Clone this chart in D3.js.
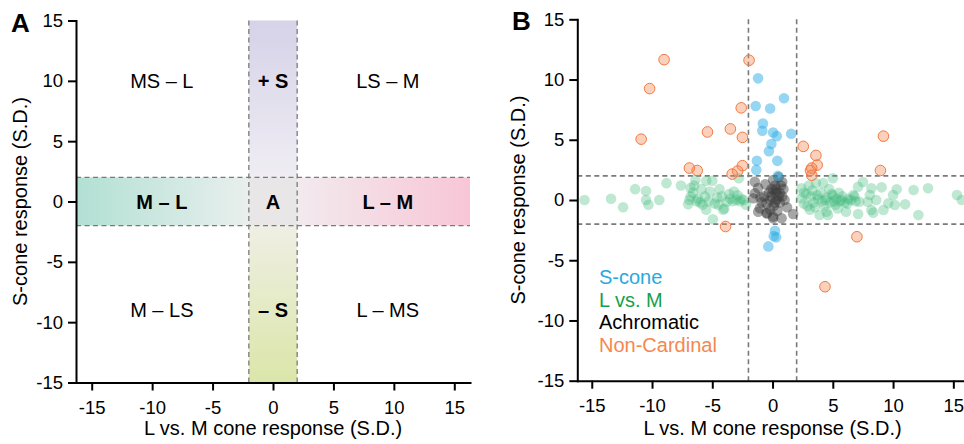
<!DOCTYPE html>
<html>
<head>
<meta charset="utf-8">
<script src="https://cdn.jsdelivr.net/npm/d3@7"></script>
<style>
	body { margin: 0; background: #fff; }
	svg { display: block; font-family: "Liberation Sans", Arial, sans-serif; }
	.axis path, .axis line { stroke: #000; stroke-width: 2; }
	.axis text { font-size: 18.5px; fill: #000; }
	.title { font-size: 20px; fill: #000; }
</style>
</head>
<body>
<svg width="964" height="444"></svg>
<script>
var tickValues = [-15, -10, -5, 0, 5, 10, 15];
var cutoff = 2;

// panel A region labels (text per row, columns at regionX, rows at regionY)
var regionX = [-9.2, 0, 9.5];
var regionY = [10, 0, -9];
var regionText = [
	["MS – L", "+ S", "LS – M"],
	["M – L", "A", "L – M"],
	["M – LS", "– S", "L – MS"]
];

// panel B: [L vs. M, S-cone] per cell
var sCone = [
	[-1.2, 10.1], [-1.4, 7.8], [-0.2, 7.6], [0.95, 8.45], [-0.8, 6.35], [-0.85, 5.75],
	[0.05, 5.6], [0.35, 5.3], [1.55, 5.5], [-0.1, 4.65], [-0.3, 4.05], [-1.3, 3.25],
	[0.4, 3.25], [-1.35, 2.5], [0.45, 2.0], [0.2, -2.55], [0.1, -3.0], [0.3, -3.1], [-0.35, -3.85]
];
var lvsM = [
	[-15.6, 0], [-13.4, 0.1], [-12.4, -0.6], [-11.4, 0.9], [-10.5, 0.75], [-10.5, 0],
	[-10.3, -0.4], [-9.4, 0], [-8.8, 1.4], [-7.6, 1.2], [-6.8, 1.0], [-6.8, 0.3],
	[-7.0, -0.35], [-6.4, 1.65], [-6.6, 0.6], [-6.2, 0.1], [-6.0, -0.2], [-6.9, 0.0],
	[-5.5, 1.6], [-5.0, 1.6], [-5.5, -0.8], [-4.95, -1.6], [-5.2, 0.7], [-5.6, 0.3],
	[-4.4, 0.9], [-4.2, 0.3], [-3.8, -0.15], [-4.0, -0.7], [-4.1, -0.8], [-3.2, 0.7],
	[-3.0, 0], [-2.4, 0], [-2.8, 1.8], [-2.2, -0.4], [-3.5, 0.1], [-3.3, -0.1],
	[-2.7, -0.1], [-2.6, 0.1], [-4.6, 0.2], [-4.8, -0.3], [-5.8, -0.4], [-3.6, 0.5],
	[-2.9, 0.4], [-6.3, -0.1], [-5.3, -0.1], [-4.5, -0.4], [-6.5, 1.2], [-5.9, 0.9],
	[2.4, 0.97], [2.4, 0.14], [2.6, -0.3], [2.8, 0.5], [3.0, 1.2], [3.2, 0.3],
	[3.4, -0.2], [3.3, 0.8], [3.6, 1.4], [3.8, 0.1], [3.9, -1.24], [4.0, 0.6],
	[4.2, 1.4], [4.3, -0.5], [4.5, 0.2], [4.48, -0.97], [4.6, -1.24], [4.7, 0.9],
	[4.8, -0.2], [5.0, 1.8], [5.0, 0.4], [5.2, -0.4], [5.3, 0.1], [5.5, 0.6],
	[5.6, -0.1], [5.8, 0.3], [6.0, -0.2], [6.1, -0.97], [6.3, 0.1], [6.5, 0.0],
	[6.7, 0.41], [6.9, -0.1], [3.1, -0.8], [3.5, -0.6], [4.1, -0.1], [2.9, -0.5],
	[2.6, 0.6], [4.9, 0.5], [5.4, -0.7], [6.8, 0.3], [3.7, 0.4], [4.4, 0.0],
	[5.1, -0.1], [5.7, 0.0], [6.2, -0.3], [7.1, 1.1], [7.5, 1.5], [8.2, 0.97],
	[9.05, 1.05], [8.07, 0.41], [8.6, 0], [7.9, -0.14], [7.2, -0.14], [7.1, -1.16],
	[8.2, -0.83], [8.35, -1.05], [9.2, -0.83], [9.6, -0.28], [10.0, 0.41], [10.3, 0.89],
	[10.15, -0.41], [11.0, -0.36], [11.7, 0.83], [12.1, -1.24], [12.9, 0.97], [15.3, 0.41],
	[15.7, 0]
];
var achromatic = [
	[-1.6, 0.14], [-1.47, 1.52], [-1.47, 0.55], [-1.05, -0.69], [-1.19, -0.97], [-0.5, -1.1],
	[-0.45, -1.1], [0.05, -1.38], [0.05, -1.52], [0.75, -1.52], [1.71, -1.16], [0.05, 1.66],
	[0.05, 0.83], [-0.3, 0.6], [0.3, 0.6], [-0.2, 0.0], [0.3, 0.0], [-0.5, -0.3],
	[0.1, -0.5], [-0.7, 0.3], [0.7, 1.2], [0.8, 1.5], [0.9, 0.9], [0.8, 0.3],
	[0.4, -0.9], [-0.2, -0.8], [-1.0, 0.2], [-1.2, 1.0], [0.5, 1.9], [-0.6, 1.3],
	[0.2, 1.2], [0.6, -0.2], [-0.9, -0.2], [1.0, 0.0], [1.2, -0.6], [-0.1, 0.3], [0.5, 0.3],
	[0.3, 0.9], [-0.1, 0.9], [0.6, 0.6], [0.2, -0.2]
];
var nonCardinal = [
	[-9.0, 11.65], [-1.95, 11.6], [-10.2, 9.25], [-10.9, 5.05], [-2.6, 7.65], [-5.4, 5.65],
	[-3.5, 5.9], [-2.5, 5.2], [-6.9, 2.65], [-6.25, 2.45], [-2.5, 2.85], [-2.9, 2.4],
	[-3.35, 2.15], [2.55, 4.45], [3.6, 3.7], [3.7, 2.9], [3.25, 2.65], [3.15, 2.45],
	[3.25, 2.05], [9.2, 5.3], [8.95, 2.45], [-3.9, -2.2], [7.0, -3.05], [4.35, -7.2]
];
var legendNames = ["S-cone", "L vs. M", "Achromatic", "Non-Cardinal"];
var legendColors = ["#29a9e0", "#16a04c", "#000000", "#f5874f"];

var svg = d3.select("svg");

function drawAxes(g, x, y, yTitleX) {
	g.append("g").attr("class", "axis")
		.attr("transform", "translate(0," + y.range()[0] + ")")
		.call(d3.axisBottom(x).tickValues(tickValues).tickFormat(String)
			.tickSize(8).tickSizeOuter(0).tickPadding(10));
	g.append("g").attr("class", "axis")
		.attr("transform", "translate(" + x.range()[0] + ",0)")
		.call(d3.axisLeft(y).tickValues(tickValues).tickFormat(String)
			.tickSize(8).tickSizeOuter(0).tickPadding(5));
	g.selectAll(".axis .domain").attr("stroke-linecap", "square");

	g.append("text").attr("class", "title")
		.attr("x", x(0)).attr("y", 435)
		.attr("text-anchor", "middle")
		.text("L vs. M cone response (S.D.)");
	g.append("text").attr("class", "title")
		.attr("transform", "translate(" + yTitleX + "," + y(0) + ") rotate(-90)")
		.attr("text-anchor", "middle")
		.text("S-cone response (S.D.)");
}

// ---------- panel A ----------
var xA = d3.scaleLinear().domain([-16.3, 16.3]).range([76, 470]);
var yA = d3.scaleLinear().domain([-15, 15]).range([382.5, 20.5]);
var gA = svg.append("g");

var defs = svg.append("defs");
function grad(id, x1, y1, x2, y2, c1, c2) {
	var lg = defs.append("linearGradient").attr("id", id)
		.attr("x1", x1).attr("y1", y1).attr("x2", x2).attr("y2", y2);
	lg.append("stop").attr("offset", "0%").attr("stop-color", c1);
	lg.append("stop").attr("offset", "100%").attr("stop-color", c2);
}
grad("gTop", 0, 0, 0, 1, "#d6d2e8", "#efedf3");
grad("gBot", 0, 0, 0, 1, "#efefe4", "#dbe6a9");
grad("gLeft", 0, 0, 1, 0, "#b2e0d4", "#e9efed");
grad("gRight", 0, 0, 1, 0, "#f2eaee", "#f8c6d6");

gA.append("rect").attr("x", xA(-cutoff)).attr("y", yA(15))
	.attr("width", xA(cutoff) - xA(-cutoff)).attr("height", yA(cutoff) - yA(15))
	.attr("fill", "url(#gTop)");
gA.append("rect").attr("x", xA(-cutoff)).attr("y", yA(-cutoff))
	.attr("width", xA(cutoff) - xA(-cutoff)).attr("height", yA(-15) - yA(-cutoff))
	.attr("fill", "url(#gBot)");
gA.append("rect").attr("x", xA(-16.3)).attr("y", yA(cutoff))
	.attr("width", xA(-cutoff) - xA(-16.3)).attr("height", yA(-cutoff) - yA(cutoff))
	.attr("fill", "url(#gLeft)");
gA.append("rect").attr("x", xA(cutoff)).attr("y", yA(cutoff))
	.attr("width", xA(16.3) - xA(cutoff)).attr("height", yA(-cutoff) - yA(cutoff))
	.attr("fill", "url(#gRight)");
gA.append("rect").attr("x", xA(-cutoff)).attr("y", yA(cutoff))
	.attr("width", xA(cutoff) - xA(-cutoff)).attr("height", yA(-cutoff) - yA(cutoff))
	.attr("fill", "#e8e6e7");

function dashes(g, x, y, w) {
	[-cutoff, cutoff].forEach(function(v) {
		g.append("line").attr("x1", x(v)).attr("x2", x(v))
			.attr("y1", y(15)).attr("y2", y(-15));
		g.append("line").attr("x1", x.range()[0]).attr("x2", x.range()[1])
			.attr("y1", y(v)).attr("y2", y(v));
	});
	g.selectAll("line").attr("stroke", "#7a7a7a").attr("stroke-width", w)
		.attr("stroke-dasharray", "5,3.5");
}
dashes(gA.append("g"), xA, yA, 1.3);

regionText.forEach(function(row, i) {
	row.forEach(function(t, j) {
		gA.append("text")
			.attr("x", xA(regionX[j])).attr("y", yA(regionY[i]))
			.attr("dy", "0.35em")
			.attr("text-anchor", "middle")
			.attr("font-size", "20px")
			.attr("font-weight", (i == 1 || j == 1) ? "bold" : "normal")
			.text(t);
	});
});

drawAxes(gA, xA, yA, 27);
svg.append("text").attr("x", 11).attr("y", 31.5)
	.attr("font-size", "26px").attr("font-weight", "bold").text("A");

// ---------- panel B ----------
var xB = d3.scaleLinear().domain([-16.2, 16.3]).range([577.3, 969]);
var yB = d3.scaleLinear().domain([-15, 15]).range([380.7, 19.3]);
var gB = svg.append("g");

dashes(gB.append("g"), xB, yB, 1.6);

function dots(data, fill, op, stroke) {
	gB.append("g").selectAll("circle")
		.data(data)
		.enter().append("circle")
		.attr("cx", function(d) { return xB(d[0]); })
		.attr("cy", function(d) { return yB(d[1]); })
		.attr("r", 5.3)
		.attr("fill", fill)
		.attr("fill-opacity", op)
		.attr("stroke", stroke || "none")
		.attr("stroke-width", 1);
}
dots(lvsM, "#3dba7a", 0.33);
dots(achromatic, "#3a3a3a", 0.45);
dots(sCone, "#2eaee6", 0.5);
dots(nonCardinal, "#f6874f", 0.38, "#f07a45");

drawAxes(gB, xB, yB, 525);
svg.append("text").attr("x", 512).attr("y", 29.5)
	.attr("font-size", "26px").attr("font-weight", "bold").text("B");

gB.selectAll(".legend")
	.data(legendNames)
	.enter().append("text")
	.attr("class", "legend")
	.attr("x", 599)
	.attr("y", function(d, i) { return 284 + i * 22.5; })
	.attr("font-size", "20px")
	.attr("fill", function(d, i) { return legendColors[i]; })
	.text(function(d) { return d; });
</script>
</body>
</html>
